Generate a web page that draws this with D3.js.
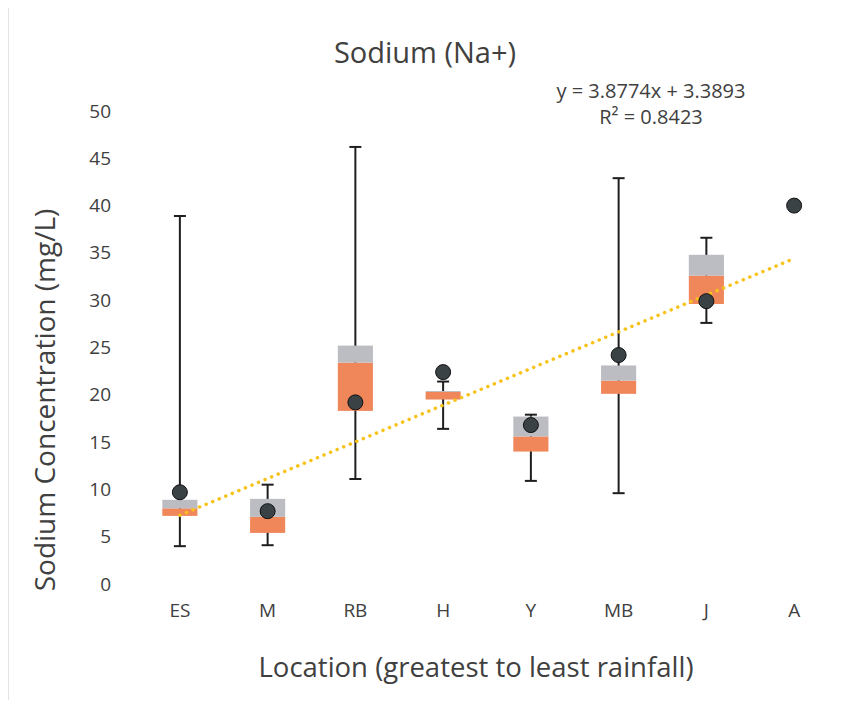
<!DOCTYPE html>
<html>
<head>
<meta charset="utf-8">
<script src="https://cdn.jsdelivr.net/npm/d3@7"></script>
<style>
  body { margin: 0; background: #fff; }
  svg text { font-family: "Open Sans", "Noto Sans", sans-serif; fill: #404040; }
</style>
</head>
<body>
<svg id="chart" width="859" height="704"></svg>
<script>
// location codes, greatest to least rainfall
var locations = ['ES', 'M', 'RB', 'H', 'Y', 'MB', 'J', 'A'];

// box plot values (mg/L), null where a location has no box
var whiskerLow  = [4.0, 4.1, 11.1, 16.4, 10.9, 9.6, 27.6, null];
var quartile1   = [7.2, 5.4, 18.3, 19.5, 14.0, 20.1, 29.6, null];
var median      = [8.0, 7.1, 23.4, 20.3, 15.6, 21.5, 32.6, null];
var quartile3   = [8.9, 9.0, 25.2, 20.4, 17.7, 23.1, 34.8, null];
var whiskerHigh = [38.9, 10.5, 46.2, 21.4, 17.9, 42.9, 36.6, null];

// single measured values (dots)
var sampleValue = [9.7, 7.7, 19.2, 22.4, 16.8, 24.2, 29.9, 40.0];

// linear trend of the dots
var trendSlope = 3.8774;
var trendIntercept = 3.3893;
var trendR2 = 0.8423;

var yTicks = [0, 5, 10, 15, 20, 25, 30, 35, 40, 45, 50];

var svg = d3.select('#chart');

var x = d3.scaleBand()
  .domain(locations)
  .range([136, 838])
  .padding(0);

var y = d3.scaleLinear()
  .domain([0, 50])
  .range([584, 111]);

var boxWidth = x.bandwidth() * 0.4;
var capWidth = 12;

function cx(d) { return x(d) + x.bandwidth() / 2; }

// faint page edge on the left
svg.append('line')
  .attr('x1', 8.5).attr('x2', 8.5)
  .attr('y1', 8).attr('y2', 700)
  .attr('stroke', '#e4e4e4')
  .attr('stroke-width', 1);

// title
svg.append('text')
  .attr('x', 425)
  .attr('y', 63)
  .attr('text-anchor', 'middle')
  .style('font-size', '29px')
  .text('Sodium (Na+)');

// y axis (labels only)
var yAxis = d3.axisLeft(y)
  .tickValues(yTicks)
  .tickSize(0)
  .tickPadding(0);

var yAxisG = svg.append('g')
  .attr('transform', 'translate(111,0)')
  .call(yAxis);
yAxisG.select('.domain').remove();
yAxisG.selectAll('text')
  .style('font-size', '19px')
  .style('font-family', '"Open Sans", sans-serif')
  .attr('fill', '#404040');

// x axis (labels only)
var xAxis = d3.axisBottom(x)
  .tickSize(0)
  .tickPadding(0);

var xAxisG = svg.append('g')
  .attr('transform', 'translate(0,603)')
  .call(xAxis);
xAxisG.select('.domain').remove();
xAxisG.selectAll('text')
  .style('font-size', '19px')
  .style('font-family', '"Open Sans", sans-serif')
  .attr('fill', '#404040');

// axis titles
svg.append('text')
  .attr('x', 476)
  .attr('y', 677)
  .attr('text-anchor', 'middle')
  .style('font-size', '27.5px')
  .text('Location (greatest to least rainfall)');

svg.append('text')
  .attr('transform', 'translate(55,400) rotate(-90)')
  .attr('text-anchor', 'middle')
  .style('font-size', '28px')
  .text('Sodium Concentration (mg/L)');

// box data table built from the arrays
var boxes = locations.map(function(loc, i) {
  return {
    loc: loc,
    lo: whiskerLow[i], q1: quartile1[i], med: median[i],
    q3: quartile3[i], hi: whiskerHigh[i], dot: sampleValue[i]
  };
});
var withBox = boxes.filter(function(d) { return d.q1 !== null; });

var plot = svg.append('g');

// whiskers
plot.selectAll('line.whisker')
  .data(withBox)
  .enter().append('line')
  .attr('class', 'whisker')
  .attr('x1', function(d) { return cx(d.loc); })
  .attr('x2', function(d) { return cx(d.loc); })
  .attr('y1', function(d) { return y(d.lo); })
  .attr('y2', function(d) { return y(d.hi); })
  .attr('stroke', '#1e1e1e')
  .attr('stroke-width', 2);

var caps = [];
withBox.forEach(function(d) {
  caps.push({ loc: d.loc, v: d.lo });
  caps.push({ loc: d.loc, v: d.hi });
});

plot.selectAll('line.cap')
  .data(caps)
  .enter().append('line')
  .attr('class', 'cap')
  .attr('x1', function(d) { return cx(d.loc) - capWidth / 2; })
  .attr('x2', function(d) { return cx(d.loc) + capWidth / 2; })
  .attr('y1', function(d) { return y(d.v); })
  .attr('y2', function(d) { return y(d.v); })
  .attr('stroke', '#1e1e1e')
  .attr('stroke-width', 2);

// lower box segment (Q1 to median)
plot.selectAll('rect.lower')
  .data(withBox)
  .enter().append('rect')
  .attr('class', 'lower')
  .attr('x', function(d) { return cx(d.loc) - boxWidth / 2; })
  .attr('width', boxWidth)
  .attr('y', function(d) { return y(d.med); })
  .attr('height', function(d) { return y(d.q1) - y(d.med); })
  .attr('fill', '#f0875b');

// upper box segment (median to Q3)
plot.selectAll('rect.upper')
  .data(withBox)
  .enter().append('rect')
  .attr('class', 'upper')
  .attr('x', function(d) { return cx(d.loc) - boxWidth / 2; })
  .attr('width', boxWidth)
  .attr('y', function(d) { return y(d.q3); })
  .attr('height', function(d) { return y(d.med) - y(d.q3); })
  .attr('fill', '#bcbcc3');

// trend line, from x = 1 to x = 8
var trend = [1, locations.length].map(function(n) {
  return { loc: locations[n - 1], v: trendSlope * n + trendIntercept };
});

plot.append('line')
  .attr('x1', cx(trend[0].loc))
  .attr('y1', y(trend[0].v))
  .attr('x2', cx(trend[1].loc))
  .attr('y2', y(trend[1].v))
  .attr('stroke', '#f7c31a')
  .attr('stroke-width', 3.5)
  .attr('stroke-linecap', 'round')
  .attr('stroke-dasharray', '0.1 7');

// sample dots
plot.selectAll('circle.dot')
  .data(boxes)
  .enter().append('circle')
  .attr('class', 'dot')
  .attr('cx', function(d) { return cx(d.loc); })
  .attr('cy', function(d) { return y(d.dot); })
  .attr('r', 7.5)
  .attr('fill', '#3b4246')
  .attr('stroke', '#111')
  .attr('stroke-width', 1);

// regression label
var eq = svg.append('text')
  .attr('text-anchor', 'middle')
  .style('font-size', '20px');
eq.append('tspan')
  .attr('x', 651).attr('y', 98)
  .text('y = ' + trendSlope + 'x + ' + trendIntercept);
eq.append('tspan')
  .attr('x', 651).attr('y', 124)
  .text('R² = ' + trendR2);
</script>
</body>
</html>
